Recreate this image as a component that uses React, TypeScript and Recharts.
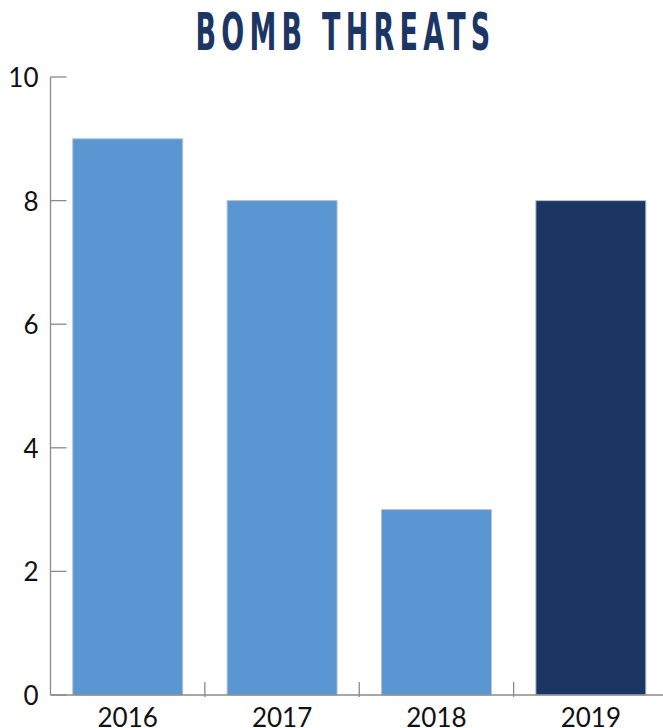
import { Bar, BarChart, Cell, XAxis, YAxis } from "recharts";

const years = ["2016", "2017", "2018", "2019"];
const threats = [9, 8, 3, 8];
const yTicks = [0, 2, 4, 6, 8, 10];

const LIGHT = "#5a96d2";
const DARK = "#1c3664";

const data = years.map((year, i) => ({ year, threats: threats[i] }));

function YTick(props: any) {
  const { x, y, payload } = props;
  return (
    <g>
      <line x1={x + 12} x2={x + 28} y1={y} y2={y} stroke="#8a8a8a" strokeWidth={1.3} />
      <text
        x={x}
        y={y}
        textAnchor="end"
        dominantBaseline="central"
        fill="#111"
        fontSize={26}
        fontFamily="Lato, sans-serif"
      >
        {payload.value}
      </text>
    </g>
  );
}

function XTick(props: any) {
  const { x, y, payload, index } = props;
  const half = payload.offset || 77.25;
  return (
    <g>
      {index < years.length - 1 && (
        <line x1={x + half} x2={x + half} y1={y} y2={y - 15} stroke="#8a8a8a" strokeWidth={1.3} />
      )}
      <text
        x={x}
        y={y + 20}
        textAnchor="middle"
        dominantBaseline="central"
        fill="#111"
        fontSize={26}
        fontFamily="Lato, sans-serif"
      >
        {payload.value}
      </text>
    </g>
  );
}

export default function App() {
  return (
    <div
      style={{
        position: "absolute",
        left: 0,
        top: 0,
        width: 663,
        height: 728,
        overflow: "hidden",
        background: "#fff",
      }}
    >
      <div
        style={{
          position: "absolute",
          left: 0,
          top: 3,
          width: 682,
          textAlign: "center",
          lineHeight: "58px",
        }}
      >
        <span
          style={{
            display: "inline-block",
            transform: "scaleX(0.52)",
            transformOrigin: "center",
            color: DARK,
            fontFamily: "'DejaVu Sans', sans-serif",
            fontWeight: 700,
            fontSize: 52,
            letterSpacing: 10,
            marginRight: -10,
            whiteSpace: "nowrap",
          }}
        >
          BOMB THREATS
        </span>
      </div>
      <BarChart
        width={668}
        height={728}
        data={data}
        margin={{ top: 77, right: 0, bottom: 0, left: 0 }}
        barCategoryGap="14.4%"
      >
        <XAxis
          dataKey="year"
          height={33}
          tickLine={false}
          tickSize={0}
          axisLine={{ stroke: "#8a8a8a", strokeWidth: 1.3 }}
          tick={<XTick />}
          interval={0}
        />
        <YAxis
          width={50.5}
          domain={[0, 10]}
          ticks={yTicks}
          tickLine={false}
          tickSize={0}
          tickMargin={12}
          axisLine={{ stroke: "#8a8a8a", strokeWidth: 1.3 }}
          tick={<YTick />}
          interval={0}
        />
        <Bar dataKey="threats" isAnimationActive={false} stroke="#b9c3d0" strokeWidth={1}>
          {data.map((d, i) => (
            <Cell key={d.year} fill={i === data.length - 1 ? DARK : LIGHT} />
          ))}
        </Bar>
      </BarChart>
    </div>
  );
}
